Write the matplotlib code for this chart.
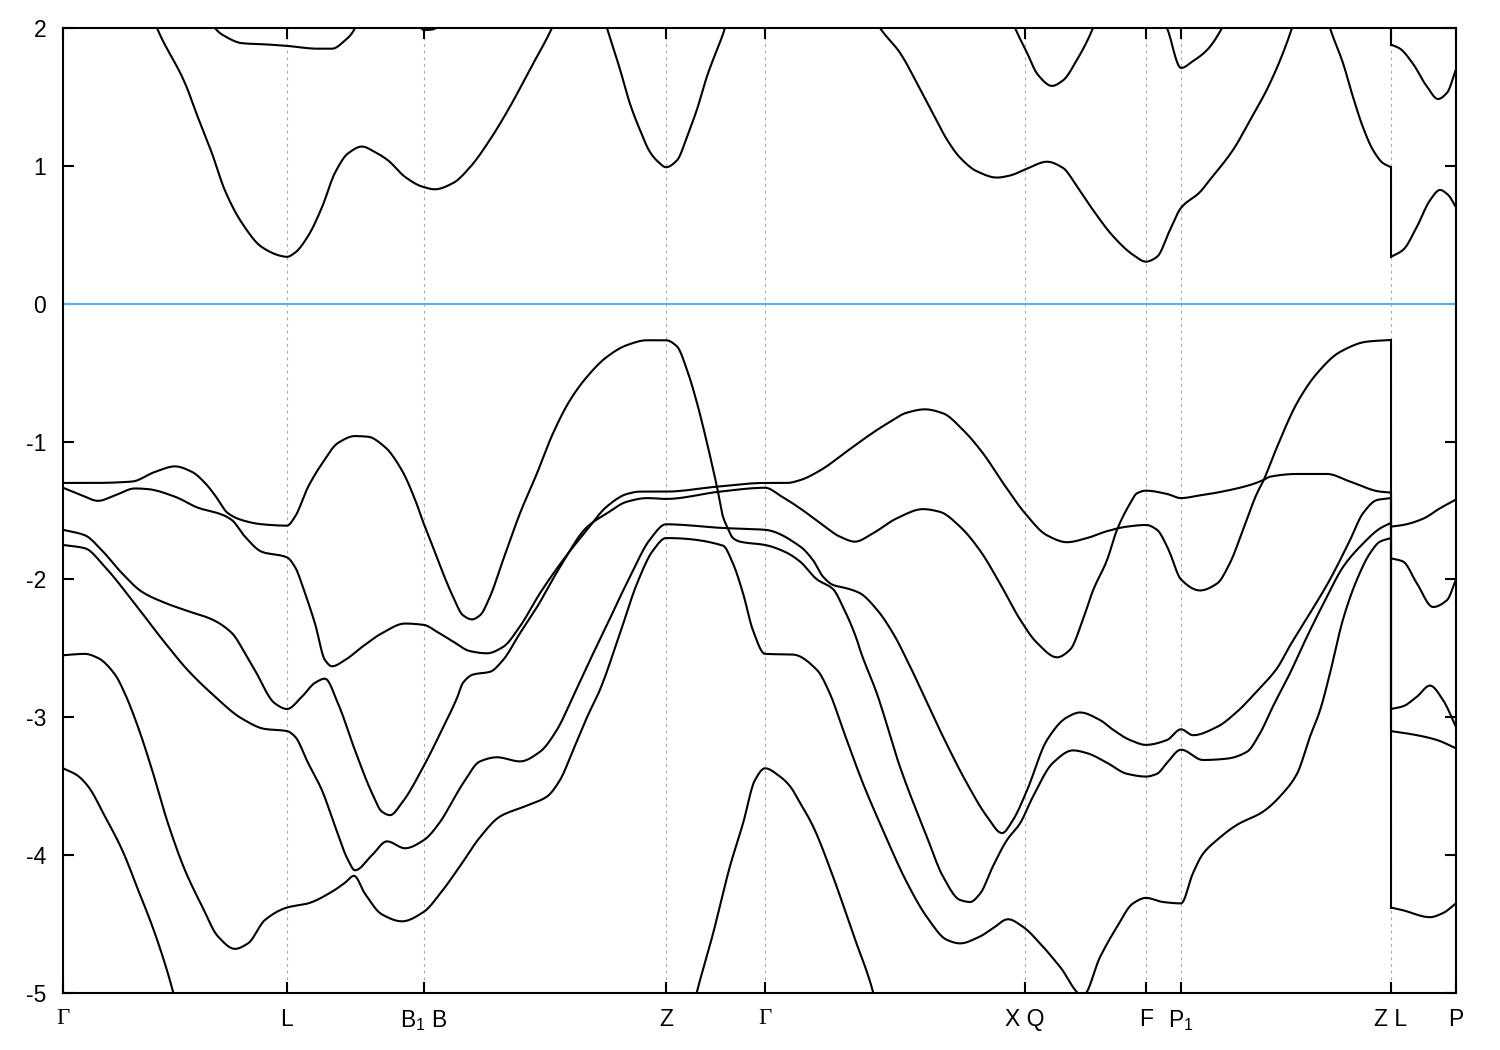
import numpy as np
import matplotlib
matplotlib.use("Agg")
import matplotlib.pyplot as plt

nan = float("nan")

# high symmetry points along the path (path length units)
kpts = [0.000, 0.224, 0.361, 0.603, 0.702, 0.962, 1.083, 1.118, 1.328, 1.393]
klabels = ["Γ", "L", "B$_1$ B", "Z", "Γ", "X Q", "F", "P$_1$", "Z L", "P"]

# conduction bands (nan = outside of the window)
k_cb1 = [0.089, 0.094, 0.122, 0.135, 0.149, 0.162, 0.179, 0.199, 0.219, 0.224,
         0.232, 0.245, 0.259, 0.272, 0.285, 0.299, 0.312, 0.325, 0.342, 0.359,
         0.372, 0.390, 0.407, 0.427, 0.447, 0.467, 0.489, 0.492, nan,
         0.540, 0.544, 0.557, 0.567, 0.577, 0.587, 0.595, 0.603, 0.614, 0.624,
         0.634, 0.644, 0.662, 0.664, nan,
         0.813, 0.817, 0.837, 0.854, 0.870, 0.884, 0.897, 0.914, 0.934, 0.947,
         0.964, 0.984, 1.000, 1.014, 1.030, 1.050, 1.070, 1.083, 1.094, 1.107,
         1.118, 1.137, 1.147, 1.170, 1.187, 1.207, 1.229, 1.231, nan,
         1.265, 1.267, 1.280, 1.290, 1.300, 1.310, 1.320, 1.328, 1.328, 1.340,
         1.354, 1.367, 1.377, 1.385, 1.393]
e_cb1 = [2.10, 2.00, 1.60, 1.35, 1.09, 0.82, 0.585, 0.41, 0.345, 0.34,
         0.37, 0.49, 0.70, 0.95, 1.09, 1.14, 1.10, 1.04, 0.92, 0.85,
         0.83, 0.875, 0.99, 1.19, 1.43, 1.70, 2.00, 2.05, nan,
         2.10, 2.00, 1.70, 1.45, 1.26, 1.10, 1.03, 0.99, 1.04, 1.21,
         1.41, 1.65, 2.00, 2.05, nan,
         2.05, 2.00, 1.82, 1.60, 1.38, 1.19, 1.06, 0.96, 0.915, 0.93,
         0.98, 1.03, 0.985, 0.85, 0.68, 0.49, 0.355, 0.305, 0.34, 0.535,
         0.695, 0.81, 0.90, 1.115, 1.33, 1.60, 2.00, 2.05, nan,
         2.05, 2.00, 1.745, 1.50, 1.28, 1.115, 1.02, 0.99, 0.34, 0.39,
         0.56, 0.75, 0.825, 0.79, 0.70]

k_cb2 = [0.149, 0.152, 0.162, 0.179, 0.205, 0.224, 0.255, 0.269, 0.282, 0.292, 0.294, nan,
         0.355, 0.361, 0.370, 0.378, nan,
         0.949, 0.952, 0.964, 0.975, 0.989, 1.000, 1.014, 1.030, 1.032, nan,
         1.100, 1.104, 1.118, 1.130, 1.144, 1.159, 1.161, nan,
         1.328, 1.328, 1.337, 1.350, 1.364, 1.375, 1.384, 1.393]
e_cb2 = [2.05, 2.00, 1.94, 1.89, 1.88, 1.87, 1.85, 1.85, 1.91, 2.00, 2.05, nan,
         2.03, 1.985, 1.99, 2.03, nan,
         2.05, 2.00, 1.82, 1.66, 1.58, 1.62, 1.77, 2.00, 2.04, nan,
         2.06, 2.00, 1.71, 1.76, 1.84, 2.00, 2.03, nan,
         2.05, 1.88, 1.85, 1.74, 1.575, 1.485, 1.53, 1.70]

# valence bands
k_v1 = [0.000, 0.032, 0.069, 0.092, 0.112, 0.129, 0.142, 0.152, 0.165, 0.179, 0.199, 0.224,
        0.232, 0.245, 0.259, 0.275, 0.292, 0.305, 0.322, 0.339, 0.352, 0.361,
        0.367, 0.380, 0.390, 0.400, 0.409, 0.417, 0.427, 0.440, 0.457, 0.474,
        0.490, 0.507, 0.524, 0.544, 0.564, 0.584, 0.603,
        0.614, 0.624, 0.634, 0.644, 0.654, 0.660, 0.664, 0.670, 0.677, 0.702,
        0.722, 0.737, 0.754, 0.770, 0.780, 0.794, 0.797, 0.814, 0.837, 0.864,
        0.880, 0.897, 0.907, 0.917, 0.930, 0.944, 0.957, 0.970, 0.990, 1.010,
        1.024, 1.044, 1.064, 1.083, 1.094, 1.104, 1.118,
        1.140, 1.164, 1.184, 1.197, 1.210, 1.227, 1.244, 1.264, 1.280, 1.300, 1.317, 1.328,
        1.328, 1.354, 1.374, 1.393]
e_v1 = [-1.30, -1.30, -1.29, -1.22, -1.18, -1.22, -1.30, -1.39, -1.52, -1.57, -1.60, -1.61,
        -1.545, -1.33, -1.16, -1.01, -0.96, -0.965, -1.04, -1.21, -1.42, -1.60,
        -1.71, -1.955, -2.125, -2.26, -2.29, -2.26, -2.125, -1.86, -1.52, -1.23,
        -0.94, -0.70, -0.53, -0.385, -0.30, -0.265, -0.265,
        -0.31, -0.48, -0.72, -1.01, -1.33, -1.545, -1.617, -1.70, -1.726, -1.75,
        -1.80, -1.87, -2.00, -2.07, -2.20, -2.44, -2.51, -2.83, -3.36, -3.87,
        -4.155, -4.325, -4.34, -4.28, -4.08, -3.89, -3.77, -3.575, -3.33, -3.24,
        -3.26, -3.33, -3.41, -3.43, -3.41, -3.33, -3.235,
        -3.31, -3.30, -3.25, -3.116, -2.92, -2.68, -2.415, -2.125, -1.91, -1.74, -1.63, -1.59,
        -3.10, -3.13, -3.165, -3.225]

k_v2 = [0.000, 0.019, 0.035, 0.052, 0.072, 0.085, 0.112, 0.135, 0.159, 0.169, 0.182, 0.199, 0.224,
        0.232, 0.242, 0.252, 0.262, 0.269, 0.282, 0.299, 0.319, 0.342, 0.361,
        0.374, 0.390, 0.407, 0.424, 0.440, 0.457, 0.477, 0.500, 0.524, 0.544, 0.564, 0.577, 0.603,
        0.654, 0.702,
        0.724, 0.737, 0.757, 0.784, 0.804, 0.824, 0.844, 0.862, 0.880, 0.900, 0.920, 0.940, 0.962,
        0.984, 1.004, 1.024, 1.044, 1.064, 1.083, 1.094, 1.104, 1.107, 1.118,
        1.137, 1.154, 1.167, 1.180, 1.194, 1.200, 1.214, 1.234, 1.254, 1.277, 1.304, 1.328,
        1.328, 1.340, 1.360, 1.377, 1.393]
e_v2 = [-1.335, -1.39, -1.43, -1.39, -1.34, -1.345, -1.40, -1.48, -1.53, -1.57, -1.69, -1.80, -1.84,
        -1.91, -2.10, -2.32, -2.585, -2.63, -2.585, -2.49, -2.39, -2.32, -2.33,
        -2.38, -2.45, -2.52, -2.536, -2.49, -2.34, -2.10, -1.86, -1.64, -1.47, -1.38, -1.363, -1.363,
        -1.327, -1.30,
        -1.30, -1.28, -1.21, -1.07, -0.965, -0.87, -0.79, -0.766, -0.795, -0.916, -1.085, -1.30, -1.52,
        -1.68, -1.73, -1.70, -1.65, -1.617, -1.605, -1.64, -1.76, -1.81, -2.00,
        -2.08, -2.03, -1.88, -1.64, -1.375, -1.29, -1.04, -0.72, -0.505, -0.35, -0.275, -0.263,
        -1.617, -1.605, -1.56, -1.484, -1.42]

k_v3 = [0.000, 0.022, 0.039, 0.059, 0.079, 0.102, 0.125, 0.149, 0.169, 0.182, 0.192, 0.212, 0.224,
        0.239, 0.252, 0.262, 0.275, 0.292, 0.309, 0.319, 0.327, 0.339, 0.361,
        0.377, 0.394, 0.400, 0.410, 0.427, 0.440, 0.457, 0.474, 0.497, 0.524, 0.544, 0.564, 0.584, 0.603,
        0.657, 0.702,
        0.719, 0.737, 0.757, 0.777, 0.792, 0.810, 0.834, 0.860, 0.877, 0.897,
        0.917, 0.937, 0.957, 0.974, 0.994, 1.007, 1.020, 1.030, 1.044, 1.054,
        1.067, 1.074, 1.083, 1.104, 1.118,
        1.137, 1.154, 1.187, 1.200, 1.207, 1.234, 1.264, 1.287, 1.317, 1.328,
        1.328, 1.340, 1.354, 1.370, 1.384, 1.393]
e_v3 = [-1.64, -1.68, -1.79, -1.955, -2.09, -2.17, -2.23, -2.29, -2.39, -2.535, -2.66, -2.90, -2.94,
        -2.85, -2.75, -2.72, -2.90, -3.24, -3.55, -3.685, -3.71, -3.62, -3.35,
        -3.12, -2.86, -2.75, -2.69, -2.67, -2.585, -2.39, -2.20, -1.91, -1.62, -1.52, -1.436, -1.41, -1.416,
        -1.363, -1.335,
        -1.40, -1.484, -1.59, -1.69, -1.726, -1.665, -1.556, -1.49, -1.51, -1.617,
        -1.79, -2.03, -2.29, -2.46, -2.565, -2.51, -2.29, -2.08, -1.86, -1.64,
        -1.45, -1.375, -1.356, -1.38, -1.41,
        -1.39, -1.37, -1.315, -1.28, -1.255, -1.235, -1.235, -1.29, -1.363, -1.37,
        -1.847, -1.87, -2.03, -2.20, -2.15, -2.00]

k_v4 = [0.000, 0.022, 0.042, 0.069, 0.102, 0.125, 0.149, 0.179, 0.202, 0.224,
        0.232, 0.245, 0.259, 0.272, 0.285, 0.292, 0.309, 0.324, 0.342, 0.361,
        0.377, 0.392, 0.400, 0.417, 0.434, 0.457, 0.477, 0.494, 0.510, 0.527, 0.540, 0.567, 0.587, 0.603,
        0.660, 0.702,
        0.737, 0.750, 0.760, 0.770, 0.784, 0.797, 0.814, 0.830, 0.847, 0.860,
        0.880, 0.904, 0.924, 0.939, 0.950, 0.964, 0.984, 1.004, 1.017, 1.037,
        1.050, 1.067, 1.083, 1.104, 1.118,
        1.130, 1.154, 1.174, 1.194, 1.214, 1.227, 1.247, 1.267, 1.287, 1.300, 1.314, 1.328,
        1.328, 1.340, 1.354, 1.367, 1.380, 1.393]
e_v4 = [-1.75, -1.774, -1.91, -2.15, -2.46, -2.66, -2.83, -3.01, -3.085, -3.10,
        -3.14, -3.33, -3.53, -3.79, -4.035, -4.11, -4.00, -3.90, -3.95, -3.89,
        -3.76, -3.575, -3.48, -3.32, -3.29, -3.32, -3.25, -3.09, -2.85, -2.585, -2.39, -1.98, -1.71, -1.60,
        -1.627, -1.64,
        -1.76, -1.86, -1.98, -2.04, -2.065, -2.10, -2.22, -2.39, -2.63, -2.83,
        -3.14, -3.48, -3.72, -3.84, -3.745, -3.53, -3.165, -3.00, -2.965, -3.02,
        -3.09, -3.165, -3.20, -3.165, -3.087,
        -3.13, -3.07, -2.96, -2.81, -2.645, -2.48, -2.245, -2.00, -1.715, -1.52, -1.424, -1.41,
        -2.94, -2.92, -2.85, -2.77, -2.875, -3.07]

k_v5 = [0.000, 0.022, 0.035, 0.052, 0.062, 0.075, 0.089, 0.105, 0.122, 0.139, 0.155, 0.172, 0.185, 0.202, 0.224,
        0.245, 0.269, 0.282, 0.291, 0.302, 0.319, 0.339, 0.361,
        0.377, 0.397, 0.417, 0.437, 0.464, 0.484, 0.497, 0.510, 0.524, 0.537, 0.557, 0.574, 0.590, 0.603,
        0.660, 0.670, 0.680, 0.690, 0.702,
        0.730, 0.754, 0.767, 0.780, 0.800, 0.820, 0.844, 0.864, 0.884, 0.897,
        0.917, 0.930, 0.945, 0.960, 0.977, 0.997, 1.020, 1.037, 1.054, 1.070,
        1.083, 1.100, 1.118,
        1.130, 1.140, 1.154, 1.174, 1.200, 1.220, 1.234, 1.247, 1.257, 1.267, 1.280, 1.294, 1.307, 1.317, 1.328,
        1.328, 1.340, 1.367, 1.380, 1.393]
e_v5 = [-2.55, -2.54, -2.57, -2.69, -2.83, -3.07, -3.38, -3.77, -4.11, -4.37, -4.59, -4.68, -4.64, -4.47, -4.38,
        -4.35, -4.265, -4.20, -4.15, -4.28, -4.43, -4.48, -4.41,
        -4.28, -4.08, -3.87, -3.72, -3.64, -3.575, -3.455, -3.24, -3.00, -2.80, -2.39, -2.03, -1.79, -1.70,
        -1.755, -1.885, -2.10, -2.37, -2.54,
        -2.545, -2.657, -2.83, -3.09, -3.48, -3.82, -4.20, -4.45, -4.615, -4.64,
        -4.59, -4.53, -4.465, -4.52, -4.64, -4.81, -5.02, -4.74, -4.52, -4.35,
        -4.31, -4.34, -4.35,
        -4.13, -3.99, -3.89, -3.78, -3.685, -3.55, -3.41, -3.14, -2.95, -2.68, -2.29, -2.00, -1.81, -1.726, -1.70,
        -4.38, -4.40, -4.45, -4.42, -4.35]

k_v6 = [0.000, 0.014, 0.025, 0.042, 0.059, 0.075, 0.092, 0.110, 0.112, nan,
        0.632, 0.634, 0.650, 0.667, 0.680, 0.692, 0.702, 0.717, 0.727, 0.737,
        0.750, 0.770, 0.790, 0.810, 0.812]
e_v6 = [-3.37, -3.42, -3.50, -3.72, -3.96, -4.25, -4.57, -4.99, -5.05, nan,
        -5.05, -4.99, -4.57, -4.08, -3.77, -3.455, -3.37, -3.43, -3.50, -3.62,
        -3.79, -4.155, -4.57, -4.99, -5.05]

bands = [(k_cb1, e_cb1), (k_cb2, e_cb2), (k_v1, e_v1), (k_v2, e_v2),
         (k_v3, e_v3), (k_v4, e_v4), (k_v5, e_v5), (k_v6, e_v6)]

yticks = [2, 1, 0, -1, -2, -3, -4, -5]


# draws a band through its read points with a monotone cubic (no overshoot),
# breaking at gaps and keeping the vertical jump at the Z|L discontinuity
def band_path(k, e, sub=10):
    k = np.asarray(k, float)
    e = np.asarray(e, float)
    xs, ys = [], []
    start = 0
    for i in range(1, len(k) + 1):
        end = i == len(k) or np.isnan(k[i]) or np.isnan(k[i - 1]) or k[i] == k[i - 1]
        if not end:
            continue
        x = k[start:i]
        y = e[start:i]
        start = i
        if len(x) == 0 or np.isnan(x[0]):
            continue
        if len(x) < 3:
            xs.append(x)
            ys.append(y)
            continue
        h = np.diff(x)
        d = np.diff(y) / h
        m = np.zeros(len(x))
        m[0], m[-1] = d[0], d[-1]
        for j in range(1, len(x) - 1):
            if d[j - 1] * d[j] > 0:
                w1 = 2 * h[j] + h[j - 1]
                w2 = h[j] + 2 * h[j - 1]
                m[j] = (w1 + w2) / (w1 / d[j - 1] + w2 / d[j])
        t = np.linspace(0, 1, sub, endpoint=False)
        px, py = [], []
        for j in range(len(h)):
            h00 = 2 * t**3 - 3 * t**2 + 1
            h10 = t**3 - 2 * t**2 + t
            h01 = -2 * t**3 + 3 * t**2
            h11 = t**3 - t**2
            px.append(x[j] + t * h[j])
            py.append(h00 * y[j] + h10 * h[j] * m[j] + h01 * y[j + 1] + h11 * h[j] * m[j + 1])
        px.append([x[-1]])
        py.append([y[-1]])
        xs.append(np.concatenate(px))
        ys.append(np.concatenate(py))
    return xs, ys


plt.rcParams['font.family'] = ['Liberation Sans', 'DejaVu Sans']
plt.rcParams['mathtext.fontset'] = 'custom'
plt.rcParams['mathtext.rm'] = 'Liberation Sans'
plt.rcParams['mathtext.it'] = 'Liberation Sans'

fig = plt.figure(figsize=(15, 10.5), dpi=100)
ax = fig.add_axes([63 / 1500, 1 - 993 / 1050, (1456 - 63) / 1500, (993 - 28) / 1050])

# vertical guides at the high symmetry points
for kp in kpts[1:-1]:
    ax.axvline(kp, color='#a8a8a8', lw=0.8, ls=(0, (2.5, 3.5)), zorder=1)

# Fermi level
ax.axhline(0.0, color='#56b4e9', lw=1.5, zorder=2)

for k, e in bands:
    xs, ys = band_path(k, e)
    # join the pieces that share an end point (the Z|L jump)
    for x, y in zip(xs, ys):
        ax.plot(x, y, color='black', lw=1.5, zorder=3, solid_joinstyle='round',
                solid_capstyle='butt')
    for j in range(len(xs) - 1):
        if xs[j][-1] == xs[j + 1][0]:
            ax.plot([xs[j][-1], xs[j + 1][0]], [ys[j][-1], ys[j + 1][0]],
                    color='black', lw=1.5, zorder=3)

ax.set_xlim(kpts[0], kpts[-1])
ax.set_ylim(-5, 2)
ax.set_xticks(kpts)
ax.set_xticklabels(klabels)
ax.set_yticks(yticks)
ax.set_yticklabels([str(v) for v in yticks])
ax.tick_params(axis='both', direction='in', length=8, width=1.5,
               top=True, right=True, labelsize=16.5)
ax.tick_params(axis='x', pad=11)
ax.tick_params(axis='y', pad=12)
for lbl in ax.get_xticklabels():
    if lbl.get_text() == "Γ":
        lbl.set_fontfamily(['Liberation Serif', 'DejaVu Serif'])
for s in ax.spines.values():
    s.set_linewidth(1.5)

fig.savefig("out.png", dpi=100)
